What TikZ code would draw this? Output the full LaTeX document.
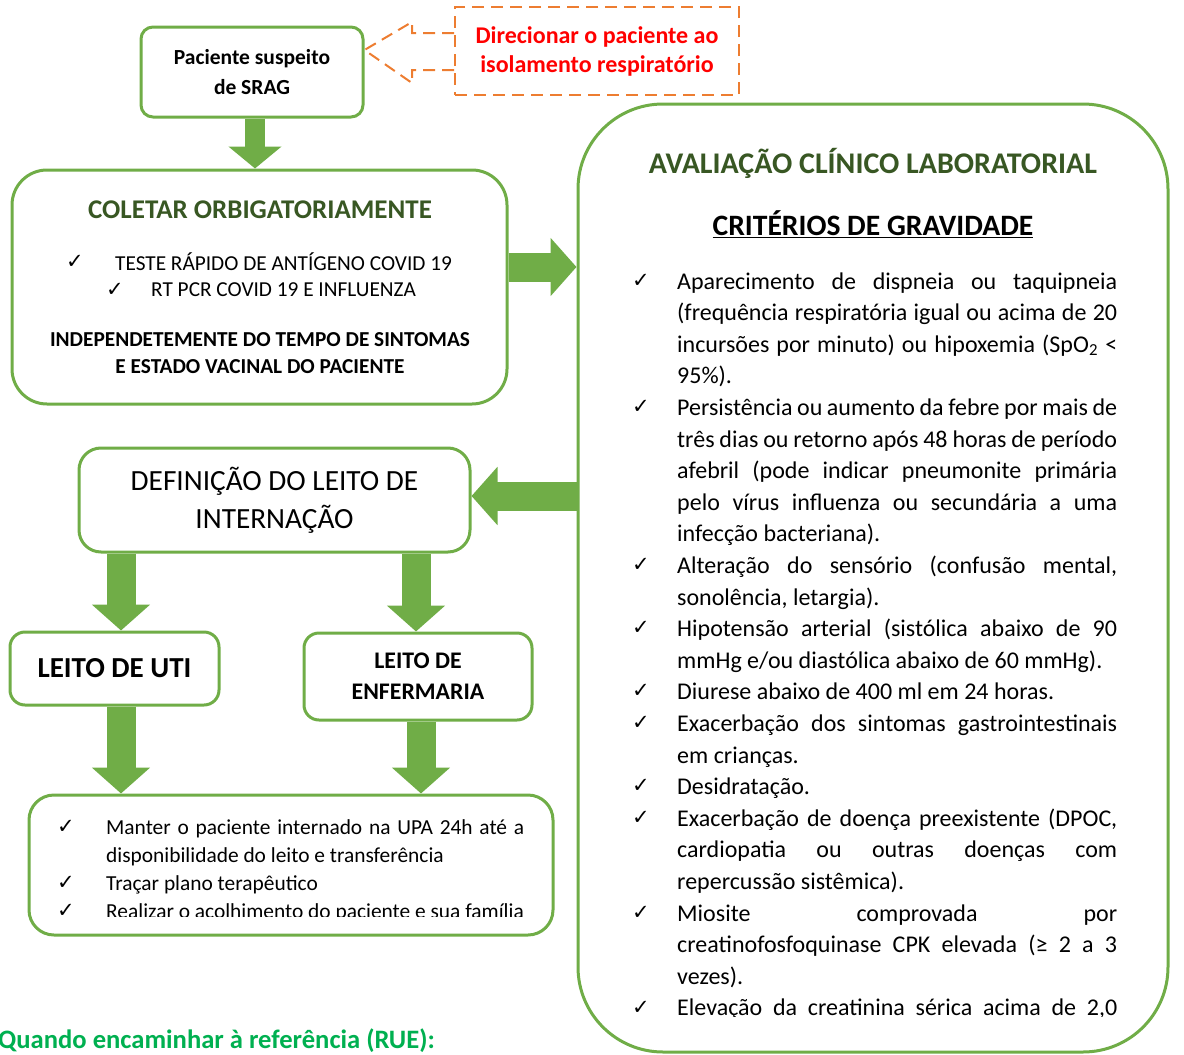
\documentclass[tikz,border=0pt]{standalone}
\usepackage{fontspec}
\setmainfont{Carlito}
\newfontfamily\chkfont{DejaVu Sans}
\usetikzlibrary{arrows.meta}

\definecolor{boxgreen}{RGB}{112,173,71}
\definecolor{titlegreen}{RGB}{56,87,35}
\definecolor{avisoorange}{RGB}{237,125,49}
\definecolor{ruegreen}{RGB}{0,176,80}

\newcommand{\chk}{{\chkfont\fontsize{21}{21}\selectfont ✓}}
\newcommand{\fitline}[2]{\makebox[#1][s]{#2}}
\newcommand{\critfont}{\fontsize{24}{31.6}\selectfont}
\newcommand{\condfont}{\fontsize{21.4}{28}\selectfont}

\tikzset{
  flowbox/.style={draw=boxgreen,line width=3pt,fill=white,inner sep=0pt,align=center},
  blockarrow/.style={draw=boxgreen,line width=29pt,-{Triangle[width=57pt,length=26pt]}},
  smallarrow/.style={draw=boxgreen,line width=20pt,-{Triangle[width=52pt,length=22pt]}},
  avisolink/.style={draw=avisoorange,line width=2pt,dash pattern=on 12pt off 7pt},
  tick/.style={inner sep=0pt},
  crit/.style={anchor=base west,inner sep=0pt,font=\critfont},
  cond/.style={anchor=base west,inner sep=0pt,font=\condfont}
}

\begin{document}
\begin{tikzpicture}[x=1pt,y=-1pt]
\useasboundingbox (0,0) rectangle (1184,1055);

% top: suspeita e aviso
\node[flowbox,minimum width=222pt,minimum height=90pt,rounded corners=12pt,
  font=\bfseries\fontsize{21.5}{30}\selectfont] (paciente) at (252,72) {Paciente suspeito\\de SRAG};
\node[draw=avisoorange,line width=2pt,dash pattern=on 12pt off 7pt,minimum width=284pt,
  minimum height=88pt,align=center,text=red,font=\bfseries\fontsize{24}{29}\selectfont] (aviso) at (597,51)
  {Direcionar o paciente ao\\isolamento respiratório};
\draw[avisolink] (aviso.west |- 0,33) -- (412,33) -- (412,22) -- ([yshift=22pt]paciente.east)
  -- (412,83) -- (412,70) -- (aviso.west |- 0,70);

% coleta
\node[flowbox,minimum width=495pt,minimum height=234pt,rounded corners=35pt] (coletar) at (259.5,287) {};
\node[text=titlegreen,font=\bfseries\fontsize{27}{30}\selectfont] (coletarT) at (260,210) {COLETAR ORBIGATORIAMENTE};
\node[tick] (k01) at (75,262) {\chk};
\node[anchor=west,inner sep=0pt,font=\fontsize{21.3}{24}\selectfont] (teste1) at (115,262) {TESTE RÁPIDO DE ANTÍGENO COVID 19};
\node[tick] (k02) at (115,290) {\chk};
\node[anchor=west,inner sep=0pt,font=\fontsize{21.3}{24}\selectfont] (teste2) at (151,290) {RT PCR COVID 19 E INFLUENZA};
\node[align=center,font=\bfseries\fontsize{21.3}{27}\selectfont] (coletarN) at (260,353)
  {INDEPENDETEMENTE DO TEMPO DE SINTOMAS\\E ESTADO VACINAL DO PACIENTE};

% avaliacao clinico laboratorial
\node[flowbox,minimum width=590pt,minimum height=948pt,rounded corners=85pt] (avaliacao) at (873,578) {};
\node[text=titlegreen,font=\bfseries\fontsize{30}{32}\selectfont] (avalT) at (873,163) {AVALIAÇÃO CLÍNICO LABORATORIAL};
\node[font=\bfseries\fontsize{29.6}{32}\selectfont] (critT) at (873,224) {\underline{CRITÉRIOS DE GRAVIDADE}};

\node[tick] (k1) at (641,281) {\chk};
\node[crit] (c1) at (677,289) {\fitline{440pt}{Aparecimento de dispneia ou taquipneia}};
\node[crit] (c2) at (677,320.6) {\fitline{440pt}{(frequência respiratória igual ou acima de 20}};
\node[crit] (c3) at (677,352.2) {\fitline{440pt}{incursões por minuto) ou hipoxemia (SpO\textsubscript{2} <}};
\node[crit] (c4) at (677,383.8) {95\%).};
\node[tick] (k2) at (641,407) {\chk};
\node[crit] (c5) at (677,415.4) {\fitline{440pt}{Persistência ou aumento da febre por mais de}};
\node[crit] (c6) at (677,447) {\fitline{440pt}{três dias ou retorno após 48 horas de período}};
\node[crit] (c7) at (677,478.6) {\fitline{440pt}{afebril (pode indicar pneumonite primária}};
\node[crit] (c8) at (677,510.2) {\fitline{440pt}{pelo vírus influenza ou secundária a uma}};
\node[crit] (c9) at (677,541.8) {infecção bacteriana).};
\node[tick] (k3) at (641,565) {\chk};
\node[crit] (c10) at (677,573.4) {\fitline{440pt}{Alteração do sensório (confusão mental,}};
\node[crit] (c11) at (677,605) {sonolência, letargia).};
\node[tick] (k4) at (641,628) {\chk};
\node[crit] (c12) at (677,636.6) {\fitline{440pt}{Hipotensão arterial (sistólica abaixo de 90}};
\node[crit] (c13) at (677,668.2) {mmHg e/ou diastólica abaixo de 60 mmHg).};
\node[tick] (k5) at (641,691) {\chk};
\node[crit] (c14) at (677,699.8) {Diurese abaixo de 400 ml em 24 horas.};
\node[tick] (k6) at (641,723) {\chk};
\node[crit] (c15) at (677,731.4) {\fitline{440pt}{Exacerbação dos sintomas gastrointestinais}};
\node[crit] (c16) at (677,763) {em crianças.};
\node[tick] (k7) at (641,786) {\chk};
\node[crit] (c17) at (677,794.6) {Desidratação.};
\node[tick] (k8) at (641,818) {\chk};
\node[crit] (c18) at (677,826.2) {\fitline{440pt}{Exacerbação de doença preexistente (DPOC,}};
\node[crit] (c19) at (677,857.8) {\fitline{440pt}{cardiopatia ou outras doenças com}};
\node[crit] (c20) at (677,889.4) {repercussão sistêmica).};
\node[tick] (k9) at (641,913) {\chk};
\node[crit] (c21) at (677,921) {\fitline{440pt}{Miosite comprovada por}};
\node[crit] (c22) at (677,952.6) {\fitline{440pt}{creatinofosfoquinase CPK elevada (≥ 2 a 3}};
\node[crit] (c23) at (677,984.2) {vezes).};
\begin{scope}
\clip (600,990) rectangle (1160,1016);
\node[tick] (k10) at (641,1008) {\chk};
\node[crit] (c24) at (677,1015.8) {\fitline{440pt}{Elevação da creatinina sérica acima de 2,0}};
\end{scope}

% definicao do leito
\node[flowbox,minimum width=391pt,minimum height=104pt,rounded corners=22pt,
  font=\fontsize{29.3}{38}\selectfont] (definicao) at (274.5,500) {DEFINIÇÃO DO LEITO DE\\INTERNAÇÃO};
\node[flowbox,minimum width=209pt,minimum height=73pt,rounded corners=15pt,
  font=\bfseries\fontsize{29}{30}\selectfont] (uti) at (114.5,668.5) {LEITO DE UTI};
\node[flowbox,minimum width=228pt,minimum height=87pt,rounded corners=15pt,
  font=\bfseries\fontsize{23.8}{31}\selectfont] (enfermaria) at (418,676.5) {LEITO DE\\ENFERMARIA};

% conduta
\node[flowbox,minimum width=524pt,minimum height=140pt,rounded corners=25pt] (conduta) at (291,865) {};
\node[tick] (m1) at (66,827) {\chk};
\node[cond] (d1) at (106,834) {\fitline{418pt}{Manter o paciente internado na UPA 24h até a}};
\node[cond] (d2) at (106,862) {disponibilidade do leito e transferência};
\node[tick] (m2) at (66,883) {\chk};
\node[cond] (d3) at (106,890) {Traçar plano terapêutico};
\begin{scope}
\clip (40,900) rectangle (540,916);
\node[tick] (m3) at (66,911) {\chk};
\node[cond] (d4) at (106,918) {Realizar o acolhimento do paciente e sua família};
\end{scope}

\node[anchor=west,inner sep=0pt,text=ruegreen,font=\bfseries\fontsize{26.6}{28}\selectfont] (rue) at (-2,1041)
  {Quando encaminhar à referência (RUE):};

% setas
\draw[smallarrow] ([xshift=3pt]paciente.south) -- ([xshift=3pt]paciente.south |- coletar.north);
\draw[blockarrow] ([yshift=20pt]coletar.east) -- ([yshift=20pt]coletar.east -| avaliacao.west);
\draw[blockarrow] ([yshift=4pt]avaliacao.west |- definicao.east) -- ([yshift=4pt]definicao.east);
\draw[blockarrow] ([xshift=6.5pt]uti.north |- definicao.south) -- ([xshift=6.5pt]uti.north);
\draw[blockarrow] ([xshift=-2pt]enfermaria.north |- definicao.south) -- ([xshift=-2pt]enfermaria.north);
\draw[blockarrow] ([xshift=6.5pt]uti.south) -- ([xshift=6.5pt]uti.south |- conduta.north);
\draw[blockarrow] ([xshift=3pt]enfermaria.south) -- ([xshift=3pt]enfermaria.south |- conduta.north);
\end{tikzpicture}
\end{document}
